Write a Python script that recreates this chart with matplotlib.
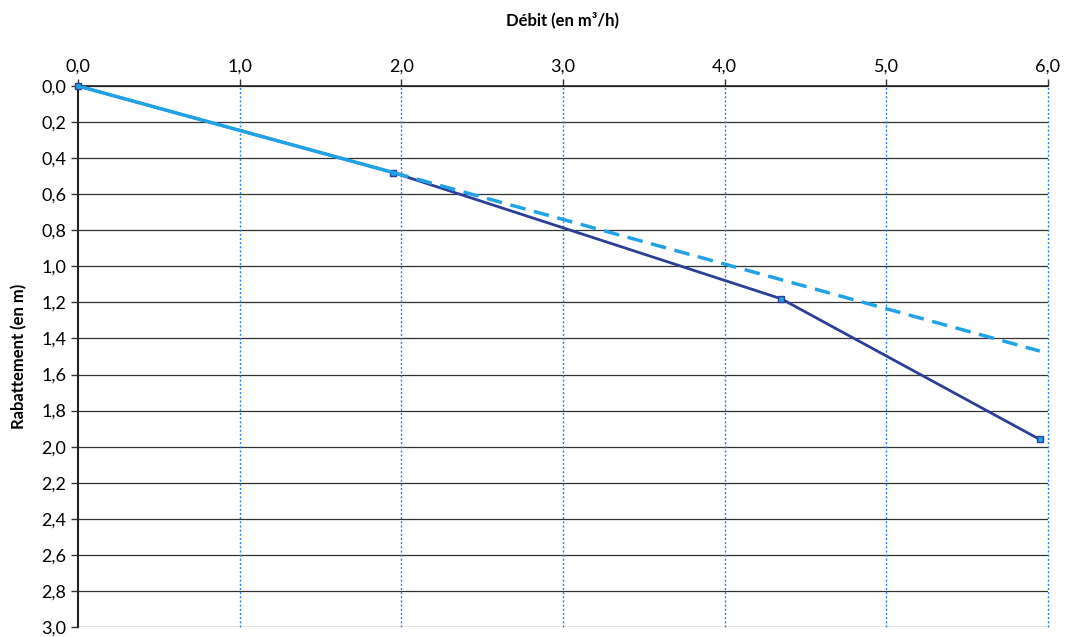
import matplotlib
matplotlib.use("Agg")
import matplotlib.pyplot as plt
import numpy as np

# data
debit = [0.0, 1.95, 4.35, 5.95]          # m3/h
rabattement = [0.0, 0.48, 1.18, 1.96]    # m

# light blue series: first step drawn solid, then extrapolated dashed
trend_x = [0.0, 1.95]
trend_y = [0.0, 0.48]
extra_x = [1.95, 5.95]
extra_y = [0.48, 1.47]

x_ticks = [0, 1, 2, 3, 4, 5, 6]
y_ticks = [round(0.2 * i, 1) for i in range(16)]

dark = '#2b3f99'
light = '#1fa3e6'

plt.rcParams['font.family'] = ['Lato', 'DejaVu Sans']

fig = plt.figure(figsize=(10.66, 6.37), dpi=100)
ax = fig.add_axes([0.0732, 0.0157, 0.9098, 0.8493])

ax.set_xlim(0, 6)
ax.set_ylim(3.0, 0.0)

# grid
for yv in y_ticks:
    ax.axhline(yv, color='#333333', lw=0.9, zorder=1)
for xv in x_ticks[1:]:
    ax.axvline(xv, color='#2f7fe0', lw=1.0, ls=(0, (1.5, 1.5)), zorder=1, clip_on=False)

ax.plot(debit, rabattement, color=dark, lw=2.0, marker='s', ms=5,
        mfc=light, mec=dark, mew=1.0, zorder=3, clip_on=False)
ax.plot(trend_x, trend_y, color=light, lw=2.5, zorder=4)
ax.plot(extra_x, extra_y, color=light, lw=2.5, ls=(0, (4.5, 2.5)), zorder=4)

ax.xaxis.tick_top()
ax.xaxis.set_label_position('top')
ax.set_xticks(x_ticks)
ax.set_xticklabels([f"{v:.1f}".replace('.', ',') for v in x_ticks])
ax.set_yticks(y_ticks)
ax.set_yticklabels([f"{v:.1f}".replace('.', ',') for v in y_ticks])
ax.tick_params(axis='both', labelsize=13, length=5, width=1, color='#333333', direction='out')

ax.set_xlabel('Débit (en m³/h)', fontsize=12, fontweight='bold', labelpad=24)
ax.set_ylabel('Rabattement (en m)', fontsize=12, fontweight='bold', labelpad=10)

for s in ['right', 'bottom']:
    ax.spines[s].set_visible(False)
ax.spines['left'].set_color('#222222')
ax.spines['left'].set_linewidth(1.5)
ax.spines['top'].set_color('#222222')
ax.spines['top'].set_linewidth(1.2)

fig.savefig('out.png', dpi=100)
